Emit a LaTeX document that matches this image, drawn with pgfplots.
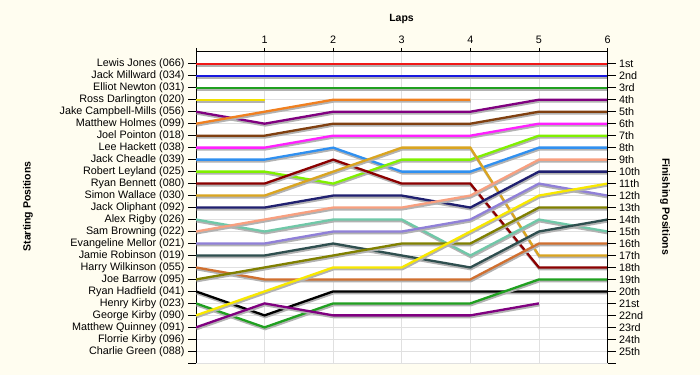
\documentclass[border=0pt]{standalone}
\usepackage{pgfplots}
\pgfplotsset{compat=1.18}
\usepackage{fontspec}
\setmainfont{Liberation Sans}
\definecolor{bgc}{RGB}{255,253,240}
\definecolor{cA}{RGB}{240,24,24}
\definecolor{cB}{RGB}{24,24,224}
\definecolor{cC}{RGB}{32,160,32}
\definecolor{cD}{RGB}{240,224,0}
\definecolor{cE}{RGB}{128,0,128}
\definecolor{cF}{RGB}{240,128,32}
\definecolor{cG}{RGB}{128,64,16}
\definecolor{cH}{RGB}{255,32,255}
\definecolor{cI}{RGB}{48,144,240}
\definecolor{cJ}{RGB}{128,240,0}
\definecolor{cK}{RGB}{139,0,0}
\definecolor{cL}{RGB}{218,165,32}
\definecolor{cM}{RGB}{32,32,112}
\definecolor{cN}{RGB}{112,200,168}
\definecolor{cO}{RGB}{248,160,128}
\definecolor{cP}{RGB}{144,128,216}
\definecolor{cQ}{RGB}{47,79,79}
\definecolor{cR}{RGB}{208,112,48}
\definecolor{cS}{RGB}{128,128,0}
\definecolor{cT}{RGB}{0,0,0}
\definecolor{cU}{RGB}{32,160,32}
\definecolor{cV}{RGB}{248,232,0}
\definecolor{cW}{RGB}{128,0,128}
\begin{document}
\begin{tikzpicture}
\fill[bgc] (0,0) rectangle (700pt,375pt);
\useasboundingbox (0,0) rectangle (700pt,375pt);
\pgfplotsset{
  common/.style={
    at={(196pt,11.7pt)}, anchor=south west,
    width=411.5pt, height=311.5pt, scale only axis,
    xmin=0, xmax=6, ymin=0, ymax=26, y dir=reverse,
    tick align=outside,
    tick style={black, line width=0.8pt},
    major tick length=8pt,
    axis line style={black, line width=0.9pt},
    ticklabel style={font=\fontsize{10.8}{12}\selectfont, text=black},
  },
}
\begin{axis}[common,
  axis background/.style={fill=white},
  axis x line*=top, axis y line*=left,
  xtick={0,...,6}, xticklabels={,1,2,3,4,5,6},
  xtick style={/pgfplots/major tick length=4pt},
  xticklabel style={yshift=-3pt},
  ytick={1,...,26},
  yticklabels={Lewis Jones (066),Jack Millward (034),Elliot Newton (031),Ross Darlington (020),Jake Campbell-Mills (056),Matthew Holmes (099),Joel Pointon (018),Lee Hackett (038),Jack Cheadle (039),Robert Leyland (025),Ryan Bennett (080),Simon Wallace (030),Jack Oliphant (092),Alex Rigby (026),Sam Browning (022),Evangeline Mellor (021),Jamie Robinson (019),Harry Wilkinson (055),Joe Barrow (095),Ryan Hadfield (041),Henry Kirby (023),George Kirby (090),Matthew Quinney (091),Florrie Kirby (096),Charlie Green (088),{}},
  xmajorgrids, ymajorgrids,
  major grid style={black!12, line width=0.8pt},
  every axis plot/.append style={line width=2.3pt, no marks,
    preaction={draw=black!30, transform canvas={xshift=0.6pt, yshift=-1.8pt}}},
]
\addplot[cA] coordinates {(0,1)(1,1)(2,1)(3,1)(4,1)(5,1)(6,1)};
\addplot[cB] coordinates {(0,2)(1,2)(2,2)(3,2)(4,2)(5,2)(6,2)};
\addplot[cC] coordinates {(0,3)(1,3)(2,3)(3,3)(4,3)(5,3)(6,3)};
\addplot[cD] coordinates {(0,4)(1,4)};
\addplot[cE] coordinates {(0,5)(1,6)(2,5)(3,5)(4,5)(5,4)(6,4)};
\addplot[cF] coordinates {(0,6)(1,5)(2,4)(3,4)(4,4)};
\addplot[cG] coordinates {(0,7)(1,7)(2,6)(3,6)(4,6)(5,5)(6,5)};
\addplot[cH] coordinates {(0,8)(1,8)(2,7)(3,7)(4,7)(5,6)(6,6)};
\addplot[cI] coordinates {(0,9)(1,9)(2,8)(3,10)(4,10)(5,8)(6,8)};
\addplot[cJ] coordinates {(0,10)(1,10)(2,11)(3,9)(4,9)(5,7)(6,7)};
\addplot[cK] coordinates {(0,11)(1,11)(2,9)(3,11)(4,11)(5,18)(6,18)};
\addplot[cL] coordinates {(0,12)(1,12)(2,10)(3,8)(4,8)(5,17)(6,17)};
\addplot[cM] coordinates {(0,13)(1,13)(2,12)(3,12)(4,13)(5,10)(6,10)};
\addplot[cN] coordinates {(0,14)(1,15)(2,14)(3,14)(4,17)(5,14)(6,15)};
\addplot[cO] coordinates {(0,15)(1,14)(2,13)(3,13)(4,12)(5,9)(6,9)};
\addplot[cP] coordinates {(0,16)(1,16)(2,15)(3,15)(4,14)(5,11)(6,12)};
\addplot[cQ] coordinates {(0,17)(1,17)(2,16)(3,17)(4,18)(5,15)(6,14)};
\addplot[cR] coordinates {(0,18)(1,19)(2,19)(3,19)(4,19)(5,16)(6,16)};
\addplot[cS] coordinates {(0,19)(1,18)(2,17)(3,16)(4,16)(5,13)(6,13)};
\addplot[cT] coordinates {(0,20)(1,22)(2,20)(3,20)(4,20)(5,20)(6,20)};
\addplot[cU] coordinates {(0,21)(1,23)(2,21)(3,21)(4,21)(5,19)(6,19)};
\addplot[cV] coordinates {(0,22)(1,20)(2,18)(3,18)(4,15)(5,12)(6,11)};
\addplot[cW] coordinates {(0,23)(1,21)(2,22)(3,22)(4,22)(5,21)};
\end{axis}
\begin{axis}[common,
  axis x line=none, axis y line*=right,
  ytick={1,...,26},
  yticklabels={1st,2nd,3rd,4th,5th,6th,7th,8th,9th,10th,11th,12th,13th,14th,15th,16th,17th,18th,19th,20th,21st,22nd,23rd,24th,25th,{}},
]
\end{axis}
\node[font=\bfseries\fontsize{10.5}{12}\selectfont] at (401.5pt,356.5pt) {Laps};
\node[font=\bfseries\fontsize{10.5}{12}\selectfont, rotate=90] at (28pt,168.5pt) {Starting Positions};
\node[font=\bfseries\fontsize{10.5}{12}\selectfont, rotate=-90] at (665pt,168.5pt) {Finishing Positions};
\end{tikzpicture}
\end{document}
